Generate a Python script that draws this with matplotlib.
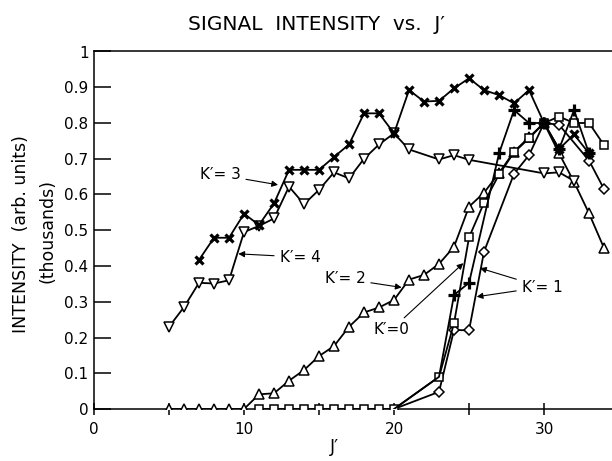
import matplotlib
matplotlib.use("Agg")
import matplotlib.pyplot as plt
from matplotlib.ticker import MultipleLocator

plt.rcParams['font.family'] = ['DejaVu Sans']

# K'=4 (open down triangles)
j_k4 = [5, 6, 7, 8, 9, 10, 11, 12, 13, 14, 15, 16, 17, 18, 19, 20, 21, 23, 24, 25, 30, 31, 32]
i_k4 = [0.23, 0.285, 0.353, 0.351, 0.36, 0.495, 0.512, 0.533, 0.622, 0.573, 0.613, 0.662,
        0.645, 0.70, 0.74, 0.771, 0.726, 0.698, 0.71, 0.697, 0.659, 0.662, 0.638]

# K'=3 (crosses)
j_k3 = [7, 8, 9, 10, 11, 12, 13, 14, 15, 16, 17, 18, 19, 20, 21, 22, 23, 24, 25, 26, 27, 28,
        29, 30, 31, 32, 33]
i_k3 = [0.417, 0.479, 0.479, 0.546, 0.515, 0.575, 0.669, 0.669, 0.669, 0.705, 0.74, 0.827,
        0.827, 0.771, 0.892, 0.86, 0.862, 0.897, 0.925, 0.892, 0.878, 0.855, 0.892, 0.80,
        0.727, 0.768, 0.715]

# K'=2 (open up triangles)
j_k2 = [5, 6, 7, 8, 9, 10, 11, 12, 13, 14, 15, 16, 17, 18, 19, 20, 21, 22, 23, 24, 25, 26,
        27, 28, 29, 30, 31, 32, 33, 34]
i_k2 = [0, 0, 0, 0, 0, 0, 0.041, 0.044, 0.079, 0.109, 0.148, 0.176, 0.23, 0.27, 0.284,
        0.305, 0.362, 0.375, 0.406, 0.454, 0.566, 0.605, 0.66, 0.72, 0.76, 0.80, 0.715,
        0.635, 0.547, 0.45]

# K'=0 (open squares)
j_k0 = [11, 12, 13, 14, 15, 16, 17, 18, 19, 20, 23, 24, 25, 26, 27, 28, 29, 30, 31, 32, 33, 34]
i_k0 = [0, 0, 0, 0, 0, 0, 0, 0, 0, 0, 0.09, 0.24, 0.48, 0.577, 0.656, 0.718, 0.757, 0.80,
        0.818, 0.80, 0.80, 0.738]

# K'=1, two runs (plus signs and open diamonds)
j_k1a = [20, 23, 24, 25, 27, 28, 29, 30, 31, 32, 33]
i_k1a = [0, 0.09, 0.319, 0.353, 0.715, 0.836, 0.80, 0.80, 0.727, 0.836, 0.715]
j_k1b = [20, 23, 24, 25, 26, 28, 29, 30, 31, 33, 34]
i_k1b = [0, 0.048, 0.221, 0.22, 0.44, 0.658, 0.71, 0.80, 0.795, 0.695, 0.615]

y_ticks = [0, 0.1, 0.2, 0.3, 0.4, 0.5, 0.6, 0.7, 0.8, 0.9, 1.0]
y_labels = ['0', '0.1', '0.2', '0.3', '0.4', '0.5', '0.6', '0.7', '0.8', '0.9', '1']
x_ticks = [0, 10, 20, 30]

fig = plt.figure(figsize=(6.12, 4.61), dpi=100)
ax = fig.add_axes([94 / 612, 52 / 461, 518 / 612, 357.5 / 461])

lw = 1.3
open_style = dict(color='black', lw=lw, mfc='white', mec='black', mew=1.1)

ax.plot(j_k2, i_k2, marker='^', ms=7.5, zorder=3, **open_style)
ax.plot(j_k4, i_k4, marker='v', ms=7.5, zorder=3, **open_style)
ax.plot(j_k3, i_k3, color='black', lw=lw, marker='x', ms=6, mew=2.3, zorder=4)
ax.plot(j_k1b, i_k1b, marker='D', ms=5.5, markevery=list(range(1, len(j_k1b))),
        zorder=3, **open_style)
ax.plot(j_k1a, i_k1a, color='black', lw=lw, marker='+', ms=8, mew=2.3,
        markevery=list(range(2, len(j_k1a))), zorder=4)
ax.plot(j_k0, i_k0, marker='s', ms=6, zorder=3, **open_style)

ax.set_xlim(0, 34.53)
ax.set_ylim(0, 1.0)
ax.spines['right'].set_visible(False)
for side in ['left', 'bottom', 'top']:
    ax.spines[side].set_linewidth(1.1)

ax.set_yticks(y_ticks)
ax.set_yticklabels(y_labels)
ax.set_xticks(x_ticks)
ax.xaxis.set_minor_locator(MultipleLocator(5))
ax.tick_params(axis='y', direction='in', length=12, width=1.1, pad=4, labelsize=11)
ax.tick_params(axis='x', which='both', direction='inout', length=9, width=1.1, pad=5,
               labelsize=11)
ax.tick_params(axis='x', which='minor', labelbottom=False)

arrow = dict(arrowstyle='-|>', color='black', lw=0.8, mutation_scale=9,
             shrinkA=2, shrinkB=0)
txt = dict(fontsize=11, ha='center', va='center')
ax.annotate("K′= 3", xy=(12.27, 0.627), xytext=(8.4, 0.655), arrowprops=arrow, **txt)
ax.annotate("K′= 4", xy=(9.62, 0.434), xytext=(13.73, 0.425), arrowprops=arrow, **txt)
ax.annotate("K′= 2", xy=(20.51, 0.34), xytext=(16.73, 0.364), arrowprops=arrow, **txt)
ax.annotate("K′=0", xy=(24.62, 0.408), xytext=(19.8, 0.221), arrowprops=arrow, **txt)
ax.annotate("K′= 1", xy=(25.73, 0.394), xytext=(29.87, 0.341), arrowprops=arrow, **txt)
ax.annotate("K′= 1", xy=(25.51, 0.314), xytext=(29.87, 0.341), arrowprops=arrow,
            color='none', **txt)

fig.text(316 / 612, 1 - 25 / 461, "SIGNAL  INTENSITY  vs.  J′", fontsize=14.5,
         ha='center', va='center')
fig.text(21 / 612, 1 - 234 / 461, "INTENSITY  (arb. units)", fontsize=12.5,
         rotation=90, ha='center', va='center')
fig.text(47 / 612, 1 - 231 / 461, "(thousands)", fontsize=12.5,
         rotation=90, ha='center', va='center')
fig.text(334 / 612, 1 - 447 / 461, "J′", fontsize=12.5, ha='center', va='center')

fig.savefig('out.png', dpi=100)
